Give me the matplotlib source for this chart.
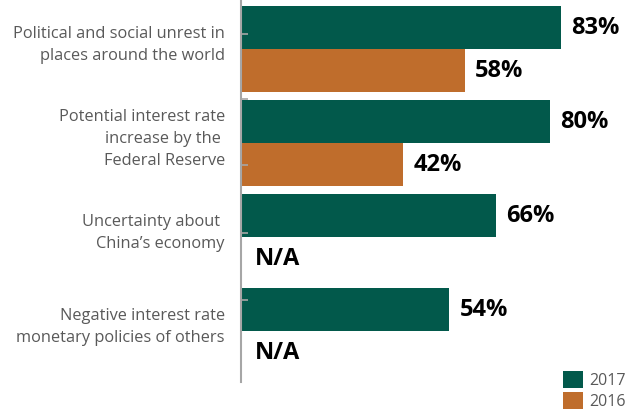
import matplotlib.pyplot as plt
from matplotlib.patches import Patch

# data
categories = ['Political and social unrest in\nplaces around the world',
              'Potential interest rate\nincrease by the \nFederal Reserve',
              'Uncertainty about \nChina\u2019s economy',
              'Negative interest rate\nmonetary policies of others']
vals_2017 = [83, 80, 66, 54]
vals_2016 = [58, 42, None, None]
series_names = ['2017', '2016']

green = '#02594b'
orange = '#bf6d2c'
grey = '#595959'

plt.rcParams['font.family'] = ['Open Sans', 'DejaVu Sans']

fig = plt.figure(figsize=(6.34, 4.15), dpi=100)
ax = fig.add_axes([241/634, 33/415, 1 - 241/634, 382/415])

h = 0.457
for i, (a, b) in enumerate(zip(vals_2017, vals_2016)):
    # 2017 bar on top, 2016 below
    ax.barh(i - h/2, a, height=h, color=green, edgecolor='none')
    ax.text(a + 2.6, i - h/2, f'{a}%', va='center', ha='left',
            fontsize=17, fontweight='bold', color='black')
    if b is not None:
        ax.barh(i + h/2, b, height=h, color=orange, edgecolor='none')
        ax.text(b + 2.6, i + h/2, f'{b}%', va='center', ha='left',
                fontsize=17, fontweight='bold', color='black')
    else:
        ax.text(3.5, i + h/2, 'N/A', va='center', ha='left',
                fontsize=17, fontweight='bold', color='black')
    # category label, right aligned left of the axis
    ax.text(-4.2, i - 0.04, categories[i], va='center', ha='right',
            fontsize=11.8, color=grey, linespacing=1.5,
            transform=ax.transData)

ax.set_xlim(0, 101.8)
ax.set_ylim(3.54, -0.521)

# spines / ticks
for s in ['top', 'right', 'bottom']:
    ax.spines[s].set_visible(False)
ax.spines['left'].set_color('#a6a6a6')
ax.spines['left'].set_linewidth(1.5)
ax.set_xticks([])
ax.set_yticks([-0.16, 0.53, 1.23, 1.96, 2.67])
ax.set_yticklabels([])
ax.tick_params(axis='y', direction='in', length=5, width=1.2, color='#a6a6a6')

# legend
handles = [Patch(facecolor=green, edgecolor='none'),
           Patch(facecolor=orange, edgecolor='none')]
fig.legend(handles, series_names, loc='lower right',
           bbox_to_anchor=(1.005, -0.014), frameon=False,
           fontsize=11.5, labelcolor=grey, handlelength=1.25, handleheight=1.25,
           handletextpad=0.4, labelspacing=0.2, borderpad=0.2)

fig.savefig('out.png', dpi=100)
